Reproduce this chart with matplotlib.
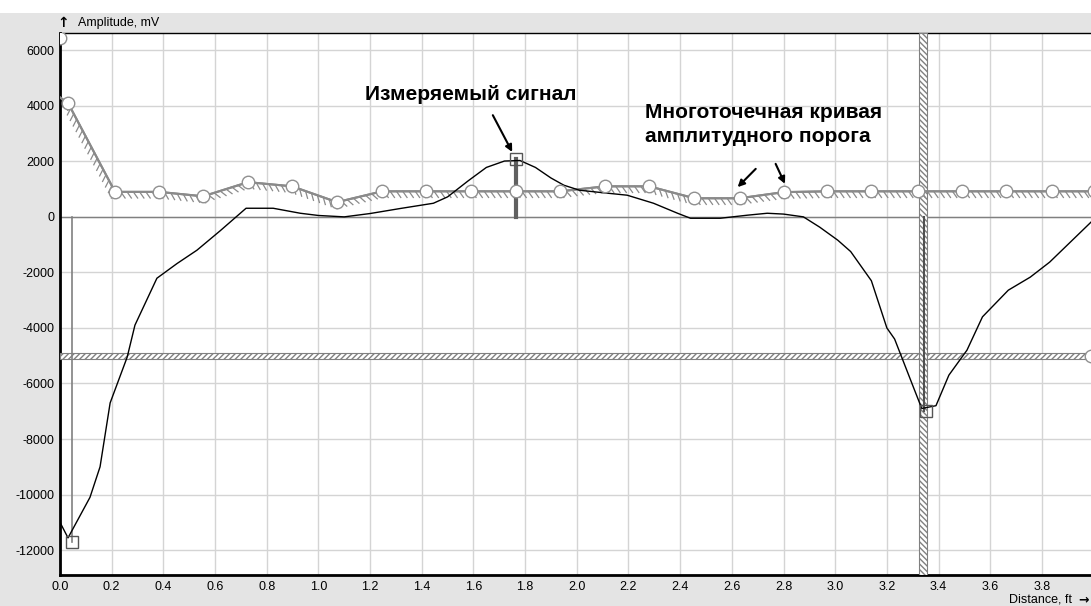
import numpy as np
import matplotlib.pyplot as plt
import matplotlib.patheffects as pe

plt.rcParams["axes.unicode_minus"] = False

# measured signal (ft, mV)
sig_x = [0.0, 0.031, 0.116, 0.155, 0.194, 0.26, 0.29, 0.375, 0.453, 0.53, 0.62, 0.72, 0.825,
         0.93, 1.0, 1.1, 1.2, 1.316, 1.445, 1.50, 1.58, 1.65, 1.72, 1.78, 1.84, 1.90, 1.95, 2.01,
         2.09, 2.195, 2.297, 2.39, 2.44, 2.555, 2.66, 2.737, 2.80, 2.877, 2.94, 3.01, 3.06,
         3.14, 3.20, 3.23, 3.30, 3.335, 3.39, 3.44, 3.51, 3.57, 3.67, 3.755, 3.83, 3.99]
sig_y = [-11000, -11560, -10100, -9000, -6700, -5050, -3900, -2210, -1680, -1200, -500, 310, 310,
         130, 50, 0, 120, 300, 490, 720, 1300, 1780, 2010, 2030, 1780, 1400, 1140, 960,
         880, 780, 490, 130, -50, -50, 60, 130, 100, 0, -370, -840, -1250,
         -2300, -4000, -4400, -6070, -6900, -6800, -5700, -4800, -3600, -2640, -2170, -1630, -190]

# multipoint amplitude threshold curve
thr_x = [0.0, 0.031, 0.213, 0.383, 0.554, 0.728, 0.898, 1.072, 1.247, 1.417, 1.59, 1.765, 1.936,
         2.11, 2.28, 2.455, 2.63, 2.80, 2.97, 3.14, 3.32, 3.49, 3.66, 3.84, 4.0]
thr_y = [4300, 4100, 900, 900, 740, 1250, 1100, 530, 920, 920, 920, 920, 920,
         1100, 1100, 670, 670, 890, 920, 920, 920, 920, 920, 920, 920]

low_thr = -5000
gate_x = 3.34
peak_marks_x = [0.046, 1.765, 3.35]
peak_marks_y = [-11700, 2070, -7000]

fig = plt.figure(figsize=(10.91, 6.06), dpi=100, facecolor="#e4e4e4")
fig.patches.append(plt.Rectangle((0, 0.978), 1, 0.03, transform=fig.transFigure,
                                 facecolor="white", edgecolor="none"))
ax = fig.add_axes([0.055, 0.051, 0.945, 0.8945])
ax.set_facecolor("white")
ax.set_xlim(0, 3.99)
ax.set_ylim(-12900, 6620)
ax.set_xticks(np.arange(0, 3.9, 0.2))
ax.set_xticklabels(["%.1f" % v for v in np.arange(0, 3.9, 0.2)])
ax.set_yticks(np.arange(-12000, 6001, 2000))
ax.grid(True, color="#d4d4d4", lw=1)
ax.set_axisbelow(True)
ax.tick_params(length=0, labelsize=9, pad=4)
ax.spines["right"].set_visible(False)
ax.spines["left"].set_linewidth(2)
ax.spines["bottom"].set_linewidth(2)
ax.spines["top"].set_linewidth(1)

ax.axhline(0, color="#808080", lw=1, zorder=2)

# lower threshold band and gate
ax.axhspan(low_thr - 110, low_thr + 110, facecolor="white", edgecolor="#808080", hatch="//////",
           lw=0.8, zorder=3)
ax.axvspan(gate_x - 0.014, gate_x + 0.014, facecolor="white", edgecolor="#808080",
           hatch="\\\\\\\\\\\\", lw=0.8, zorder=3)
ax.plot([3.99], [low_thr], "o", ms=9, mfc="white", mec="#909090", zorder=6, clip_on=False)

# threshold curve with hatch ticks
ax.plot(thr_x, thr_y, color="#8a8a8a", lw=1.5, zorder=4,
        path_effects=[pe.withTickedStroke(angle=-55, length=1.2, spacing=4.5, linewidth=0.9,
                                          foreground="#8a8a8a"), pe.Normal()])
ax.plot(thr_x[1:], thr_y[1:], "o", ms=9, mfc="white", mec="#909090", zorder=6, clip_on=False)
ax.plot([0.0], [6430], "o", ms=9, mfc="white", mec="#909090", zorder=6)

# signal
ax.plot(sig_x, sig_y, color="black", lw=1, zorder=5)

# peak markers
ax.plot([peak_marks_x[0], peak_marks_x[0]], [0, peak_marks_y[0]], color="#808080", lw=1.2, zorder=4)
ax.plot([peak_marks_x[1], peak_marks_x[1]], [0, peak_marks_y[1]], color="#606060", lw=3, zorder=4)
ax.plot([peak_marks_x[2] - 0.008, peak_marks_x[2] - 0.008], [0, peak_marks_y[2]], color="#505050",
        lw=1.5, zorder=4)
ax.plot(peak_marks_x, peak_marks_y, "s", ms=8, mfc="none", mec="#555555", mew=1, zorder=7)

# annotations
font = ["Liberation Sans", "DejaVu Sans"]
ax.text(1.59, 4420, "Измеряемый сигнал", family=font, fontsize=15, fontweight="bold",
        ha="center", va="center")
ax.annotate("", xy=(1.755, 2250), xytext=(1.67, 3750),
            arrowprops=dict(arrowstyle="-|>", color="black", lw=1.5, mutation_scale=10))
ax.text(2.265, 3330, "Многоточечная кривая\nамплитудного порога", family=font, fontsize=15,
        fontweight="bold", ha="left", va="center", linespacing=1.3)
ax.annotate("", xy=(2.615, 1000), xytext=(2.7, 1800),
            arrowprops=dict(arrowstyle="-|>", color="black", lw=1.5, mutation_scale=10))
ax.annotate("", xy=(2.81, 1100), xytext=(2.765, 2000),
            arrowprops=dict(arrowstyle="-|>", color="black", lw=1.5, mutation_scale=10))

fig.text(0.0715, 0.962, "Amplitude, mV", family=font, fontsize=9, ha="left", va="center")
fig.text(0.0575, 0.962, "↑", family=["DejaVu Sans"], fontsize=10, fontweight="bold",
         ha="center", va="center")
fig.text(0.983, 0.011, "Distance, ft", family=font, fontsize=9, ha="right", va="center")
fig.text(0.998, 0.011, "→", family=["DejaVu Sans"], fontsize=9, fontweight="bold",
         ha="right", va="center")
for lbl in ax.get_xticklabels() + ax.get_yticklabels():
    lbl.set_family(font)

fig.savefig("out.png", dpi=100, facecolor=fig.get_facecolor())
